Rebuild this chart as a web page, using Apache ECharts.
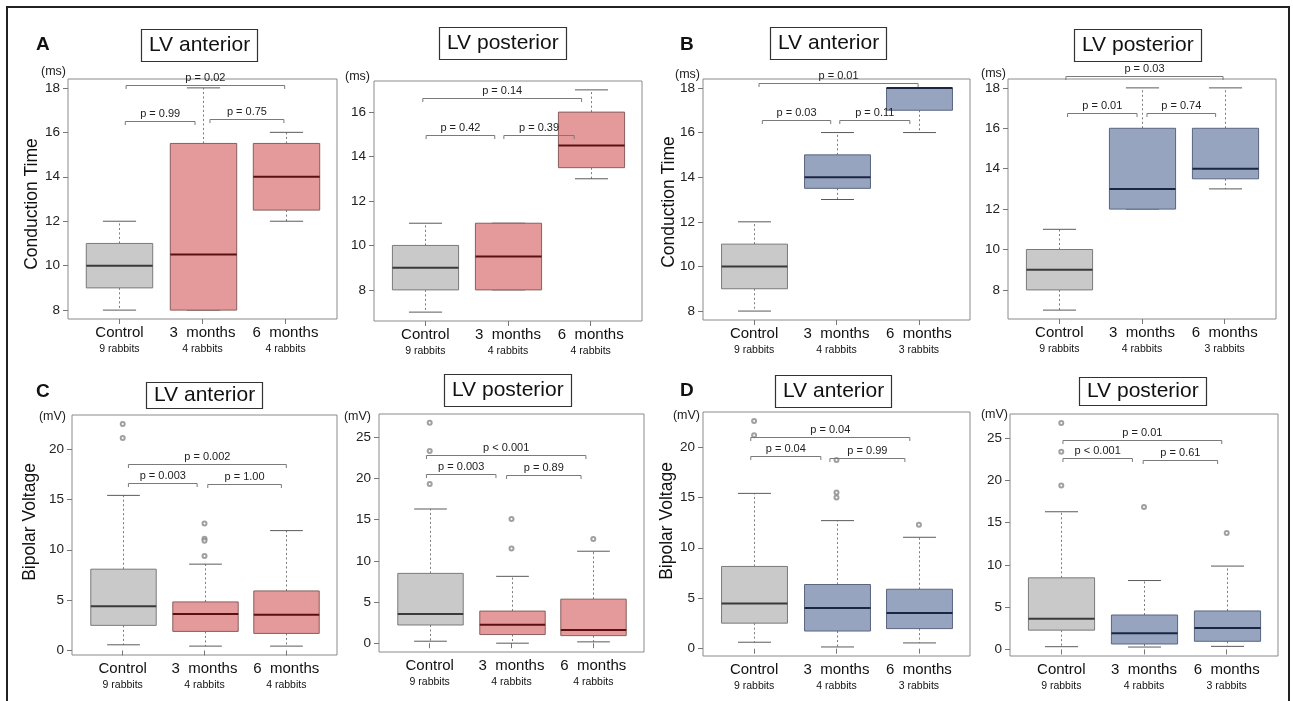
<!DOCTYPE html>
<html><head><meta charset="utf-8">
<script src="https://cdn.jsdelivr.net/npm/echarts@6/dist/echarts.min.js"></script>
<style>html,body{margin:0;padding:0;background:#fff}#c{width:1293px;height:701px}</style>
</head><body><div id="c"></div>
<script>
// ---------- DATA ----------
const categories = ['Control', '3  months', '6  months'];
const rabbitsAC = ['9 rabbits', '4 rabbits', '4 rabbits'];
const rabbitsBD = ['9 rabbits', '4 rabbits', '3 rabbits'];

const panelTitles = ['LV anterior', 'LV posterior', 'LV anterior', 'LV posterior',
                     'LV anterior', 'LV posterior', 'LV anterior', 'LV posterior'];

const ticksA_anterior = [8, 10, 12, 14, 16, 18];
const ticksA_posterior = [8, 10, 12, 14, 16];
const ticksB_anterior = [8, 10, 12, 14, 16, 18];
const ticksB_posterior = [8, 10, 12, 14, 16, 18];
const ticksC_anterior = [0, 5, 10, 15, 20];
const ticksC_posterior = [0, 5, 10, 15, 20, 25];
const ticksD_anterior = [0, 5, 10, 15, 20];
const ticksD_posterior = [0, 5, 10, 15, 20, 25];

// box statistics per group: [min whisker, Q1, median, Q3, max whisker]
const boxA_anterior = [[8, 9, 10, 11, 12], [8, 8, 10.5, 15.5, 18], [12, 12.5, 14, 15.5, 16]];
const boxA_posterior = [[7, 8, 9, 10, 11], [8, 8, 9.5, 11, 11], [13, 13.5, 14.5, 16, 17]];
const boxB_anterior = [[8, 9, 10, 11, 12], [13, 13.5, 14, 15, 16], [16, 17, 18, 18, 18]];
const boxB_posterior = [[7, 8, 9, 10, 11], [12, 12, 13, 16, 18], [13, 13.5, 14, 16, 18]];
const boxC_anterior = [[0.56, 2.49, 4.39, 8.07, 15.4], [0.43, 1.89, 3.62, 4.82, 8.57], [0.43, 1.69, 3.55, 5.91, 11.9]];
const boxC_posterior = [[0.24, 2.21, 3.54, 8.48, 16.3], [0.0, 1.05, 2.25, 3.9, 8.12], [0.16, 0.92, 1.6, 5.35, 11.17]];
const boxD_anterior = [[0.64, 2.53, 4.48, 8.15, 15.39], [0.17, 1.75, 4.04, 6.36, 12.69], [0.57, 1.99, 3.54, 5.89, 11.04]];
const boxD_posterior = [[0.32, 2.28, 3.63, 8.47, 16.29], [0.28, 0.64, 1.92, 4.07, 8.15], [0.36, 0.96, 2.52, 4.55, 9.86]];

// outliers per group
const outA_anterior = [[], [], []];
const outA_posterior = [[], [], []];
const outB_anterior = [[], [], []];
const outB_posterior = [[], [], []];
const outC_anterior = [[22.5, 21.1], [12.6, 11.1, 10.9, 9.37], []];
const outC_posterior = [[26.77, 23.35, 19.33], [15.1, 11.5], [12.66]];
const outD_anterior = [[22.56, 21.14], [18.69, 15.49, 14.98], [12.29]];
const outD_posterior = [[26.8, 23.4, 19.41], [16.85], [13.78]];

// significance brackets: [from (x), to (x), level (y), label]
const pA_anterior = [[1.08, 2.99, 18.14, 'p = 0.02'], [1.07, 1.91, 16.5, 'p = 0.99'], [2.09, 2.98, 16.6, 'p = 0.75']];
const pA_posterior = [[0.97, 2.89, 16.63, 'p = 0.14'], [1.01, 1.84, 14.96, 'p = 0.42'], [1.95, 2.80, 14.96, 'p = 0.39']];
const pB_anterior = [[1.06, 2.99, 18.22, 'p = 0.01'], [1.10, 1.93, 16.56, 'p = 0.03'], [2.04, 2.89, 16.56, 'p = 0.11']];
const pB_posterior = [[1.08, 2.98, 18.6, 'p = 0.03'], [1.10, 1.94, 16.76, 'p = 0.01'], [2.06, 2.89, 16.76, 'p = 0.74']];
const pC_anterior = [[1.07, 3.0, 18.5, 'p = 0.002'], [1.07, 1.91, 16.6, 'p = 0.003'], [2.04, 2.94, 16.5, 'p = 1.00']];
const pC_posterior = [[0.96, 2.91, 22.87, 'p < 0.001'], [0.96, 1.81, 20.54, 'p = 0.003'], [1.94, 2.85, 20.46, 'p = 0.89']];
const pD_anterior = [[0.96, 2.89, 21.0, 'p = 0.04'], [0.96, 1.81, 19.09, 'p = 0.04'], [1.92, 2.83, 18.85, 'p = 0.99']];
const pD_posterior = [[1.02, 2.94, 24.84, 'p = 0.01'], [1.02, 1.86, 22.68, 'p < 0.001'], [1.99, 2.89, 22.36, 'p = 0.61']];

// ---------- LAYOUT / STYLE ----------
const FONT = '"Liberation Sans", Arial, Helvetica, sans-serif';
const PINK = { fill: '#e4999a', stroke: '#8a5e5e', med: '#5a1010' };
const BLUE = { fill: '#97a4bf', stroke: '#5b6580', med: '#1a2644' };
const GRAY = { fill: '#c9c9c9', stroke: '#7a7a7a', med: '#3a3a3a' };

const panels = [
  { box: boxA_anterior, out: outA_anterior, p: pA_anterior, ticks: ticksA_anterior, rabbits: rabbitsAC, col: PINK,
    grid: [68, 79, 269, 240], title: [141, 29], tpad: [6, 8, 6, 8], letter: ['A', 36, 45], unit: ['(ms)', 66, 72], ytitle: ['Conduction Time', 32, 204] },
  { box: boxA_posterior, out: outA_posterior, p: pA_posterior, ticks: ticksA_posterior, rabbits: rabbitsAC, col: PINK,
    grid: [374, 81, 268, 240], title: [439, 27], tpad: [6, 8, 6, 8], unit: ['(ms)', 370, 77] },
  { box: boxB_anterior, out: outB_anterior, p: pB_anterior, ticks: ticksB_anterior, rabbits: rabbitsBD, col: BLUE,
    grid: [703, 79, 267, 241], title: [770, 27], tpad: [6, 8, 6, 8], letter: ['B', 680, 45], unit: ['(ms)', 700, 75], ytitle: ['Conduction Time', 669, 202] },
  { box: boxB_posterior, out: outB_posterior, p: pB_posterior, ticks: ticksB_posterior, rabbits: rabbitsBD, col: BLUE,
    grid: [1008, 79, 268, 240], title: [1074, 29], tpad: [6, 8, 6, 8], unit: ['(ms)', 1006, 74] },
  { box: boxC_anterior, out: outC_anterior, p: pC_anterior, ticks: ticksC_anterior, rabbits: rabbitsAC, col: PINK,
    grid: [72, 415, 265, 240], title: [146, 382], tpad: [3, 8, 3, 8], letter: ['C', 36, 392], unit: ['(mV)', 66, 417], ytitle: ['Bipolar Voltage', 30, 522] },
  { box: boxC_posterior, out: outC_posterior, p: pC_posterior, ticks: ticksC_posterior, rabbits: rabbitsAC, col: PINK,
    grid: [379, 414, 265, 238], title: [444, 374], tpad: [6, 8, 6, 8], unit: ['(mV)', 371, 417] },
  { box: boxD_anterior, out: outD_anterior, p: pD_anterior, ticks: ticksD_anterior, rabbits: rabbitsBD, col: BLUE,
    grid: [703, 412, 267, 244], title: [775, 375], tpad: [6, 8, 6, 8], letter: ['D', 680, 391], unit: ['(mV)', 700, 416], ytitle: ['Bipolar Voltage', 667, 521] },
  { box: boxD_posterior, out: outD_posterior, p: pD_posterior, ticks: ticksD_posterior, rabbits: rabbitsBD, col: BLUE,
    grid: [1010, 414, 268, 242], title: [1079, 377], tpad: [4, 8, 4, 8], unit: ['(mV)', 1008, 415] }
];

function yRange(box, out) {
  let vals = [];
  box.forEach(b => vals = vals.concat(b));
  out.forEach(o => vals = vals.concat(o));
  const lo = Math.min(...vals), hi = Math.max(...vals);
  const e = 0.04 * (hi - lo);
  return [lo - e, hi + e];
}

function makeBoxRender(col) {
  return function (params, api) {
    const x = api.value(0);
    const mn = api.value(1), q1 = api.value(2), md = api.value(3), q3 = api.value(4), mx = api.value(5);
    const c = x === 1 ? GRAY : col;
    const bw = api.size([0.8, 0])[0];
    const cw = api.size([0.4, 0])[0];
    const pMin = api.coord([x, mn]), pQ1 = api.coord([x, q1]), pMed = api.coord([x, md]);
    const pQ3 = api.coord([x, q3]), pMax = api.coord([x, mx]);
    const cx = Math.round(pMed[0]) + 0.5;
    const wStyle = { stroke: '#7a7a7a', lineWidth: 1, lineDash: [2, 2.5] };
    const capStyle = { stroke: '#5a5a5a', lineWidth: 1 };
    const ch = [];
    if (mx > q3) ch.push({ type: 'line', shape: { x1: cx, y1: pQ3[1], x2: cx, y2: pMax[1] }, style: wStyle });
    if (mn < q1) ch.push({ type: 'line', shape: { x1: cx, y1: pQ1[1], x2: cx, y2: pMin[1] }, style: wStyle });
    ch.push({ type: 'line', shape: { x1: cx - cw / 2, y1: pMax[1], x2: cx + cw / 2, y2: pMax[1] }, style: capStyle });
    ch.push({ type: 'line', shape: { x1: cx - cw / 2, y1: pMin[1], x2: cx + cw / 2, y2: pMin[1] }, style: capStyle });
    ch.push({ type: 'rect', shape: { x: cx - bw / 2, y: pQ3[1], width: bw, height: pQ1[1] - pQ3[1] },
      style: { fill: c.fill, stroke: c.stroke, lineWidth: 1 } });
    ch.push({ type: 'line', shape: { x1: cx - bw / 2, y1: pMed[1], x2: cx + bw / 2, y2: pMed[1] },
      style: { stroke: c.med, lineWidth: 2 } });
    return { type: 'group', children: ch };
  };
}

function makeBracketRender(list) {
  return function (params, api) {
    const x1 = api.value(0), x2 = api.value(1), y = api.value(2);
    const p1 = api.coord([x1, y]), p2 = api.coord([x2, y]);
    const yy = Math.round(p1[1]) + 0.5;
    const d = 3.5;
    return { type: 'group', children: [
      { type: 'polyline', shape: { points: [[p1[0], yy + d], [p1[0], yy], [p2[0], yy], [p2[0], yy + d]] },
        style: { stroke: '#7a7a7a', fill: null, lineWidth: 1 } },
      { type: 'text', x: (p1[0] + p2[0]) / 2, y: yy - 2,
        style: { text: list[params.dataIndex][3], align: 'center', verticalAlign: 'bottom',
                 fontSize: 11, fontFamily: FONT, fill: '#222' } }
    ] };
  };
}

const grids = [], xAxes = [], yAxes = [], series = [], titles = [], graphics = [];

graphics.push({ type: 'rect', shape: { x: 7, y: 7, width: 1282, height: 720 },
  style: { fill: null, stroke: '#222', lineWidth: 2 }, z: 100 });

panels.forEach((P, i) => {
  const [gl, gt, gw, gh] = P.grid;
  grids.push({ left: gl, top: gt, width: gw, height: gh, show: true, borderColor: '#8a8a8a', borderWidth: 1, backgroundColor: 'transparent' });
  const [ymin, ymax] = yRange(P.box, P.out);
  const rb = P.rabbits;
  xAxes.push({
    gridIndex: i, type: 'value', min: 0.38, max: 3.62,
    axisLine: { show: false }, splitLine: { show: false },
    axisTick: { show: true, customValues: [1, 2, 3], length: 5, lineStyle: { color: '#777' } },
    axisLabel: {
      customValues: [1, 2, 3], margin: 5,
      formatter: v => '{a|' + categories[Math.round(v) - 1] + '}\n{b|' + rb[Math.round(v) - 1] + '}',
      rich: {
        a: { fontSize: 15, lineHeight: 18, color: '#111', fontFamily: FONT },
        b: { fontSize: 10.5, lineHeight: 14, color: '#111', fontFamily: FONT }
      }
    }
  });
  yAxes.push({
    gridIndex: i, type: 'value', min: ymin, max: ymax,
    axisLine: { show: false }, splitLine: { show: false },
    axisTick: { show: true, customValues: P.ticks, length: 5, lineStyle: { color: '#777' } },
    axisLabel: { customValues: P.ticks, margin: 8, fontSize: 13.5, color: '#222', fontFamily: FONT }
  });
  series.push({
    type: 'custom', xAxisIndex: i, yAxisIndex: i, clip: false,
    renderItem: makeBoxRender(P.col),
    encode: { x: 0, y: [1, 2, 3, 4, 5] },
    data: P.box.map((b, k) => [k + 1].concat(b))
  });
  const outData = [];
  P.out.forEach((arr, k) => arr.forEach(v => outData.push([k + 1, v])));
  series.push({
    type: 'scatter', xAxisIndex: i, yAxisIndex: i, symbol: 'emptyCircle', symbolSize: 4,
    itemStyle: { color: '#888', borderColor: '#888', borderWidth: 0.9 }, data: outData
  });
  series.push({
    type: 'custom', xAxisIndex: i, yAxisIndex: i, clip: false,
    renderItem: makeBracketRender(P.p),
    encode: { x: [0, 1], y: 2 },
    data: P.p.map(b => [b[0], b[1], b[2]]), z: 5
  });
  titles.push({
    text: panelTitles[i], left: P.title[0], top: P.title[1], padding: P.tpad,
    borderColor: '#333', borderWidth: 1.2,
    textStyle: { fontSize: 21, fontWeight: 'normal', color: '#111', fontFamily: FONT }
  });
  if (P.letter) graphics.push({ type: 'text', x: P.letter[1], y: P.letter[2],
    style: { text: P.letter[0], align: 'left', verticalAlign: 'middle', fontSize: 19, fontWeight: 'bold', fontFamily: FONT, fill: '#111' } });
  if (P.unit) graphics.push({ type: 'text', x: P.unit[1], y: P.unit[2],
    style: { text: P.unit[0], align: 'right', verticalAlign: 'middle', fontSize: 12.5, fontFamily: FONT, fill: '#222' } });
  if (P.ytitle) graphics.push({ type: 'text', x: P.ytitle[1], y: P.ytitle[2], rotation: Math.PI / 2,
    style: { text: P.ytitle[0], align: 'center', verticalAlign: 'middle', fontSize: 17.5, fontFamily: FONT, fill: '#111' } });
});

const chart = echarts.init(document.getElementById('c'), null, { renderer: 'canvas' });
chart.setOption({
  animation: false,
  backgroundColor: '#fff',
  title: titles,
  grid: grids, xAxis: xAxes, yAxis: yAxes, series: series,
  graphic: graphics
});
</script></body></html>
